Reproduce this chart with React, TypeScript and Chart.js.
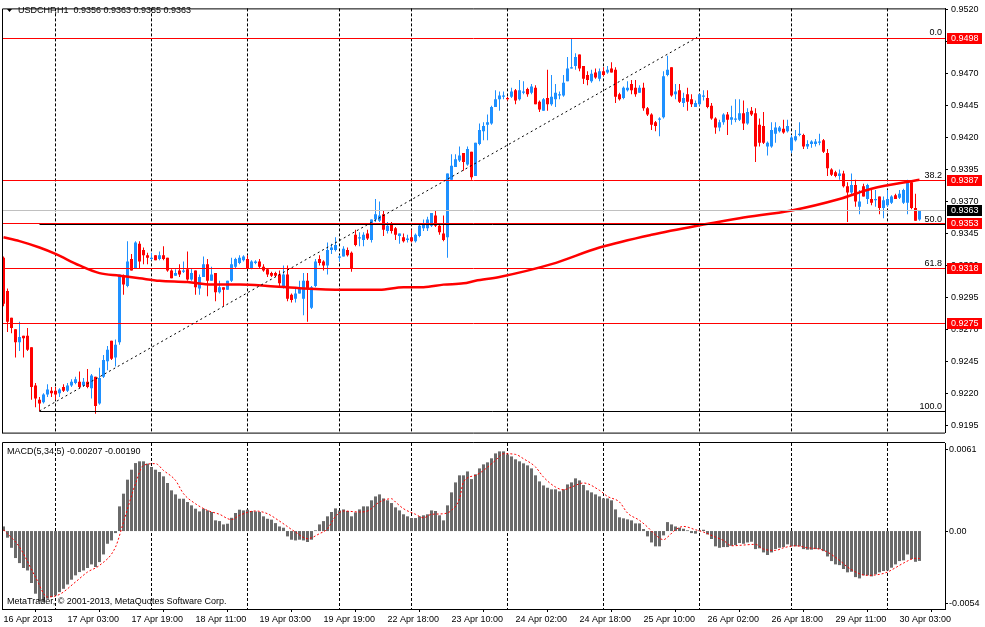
import { useEffect, useRef } from 'react';
import { Chart, registerables } from 'chart.js';

Chart.register(...registerables);

const FONT = '"Liberation Sans", Arial, sans-serif';
const BULL = '#1e90ff';
const BEAR = '#ff0000';
const HIST = '#6a6a6a';

const symbolHeader = 'USDCHF,H1  0.9356 0.9363 0.9355 0.9363';
const macdHeader = 'MACD(5,34,5) -0.00207 -0.00190';
const copyright = 'MetaTrader, \u00a9 2001-2013, MetaQuotes Software Corp.';

// H1 candles
const opens = [
  0.9326, 0.9300, 0.9279, 0.9270, 0.9260, 0.9265, 0.9265, 0.9256, 0.9226, 0.9215,
  0.9213, 0.9219, 0.9222, 0.9222, 0.9220, 0.9225, 0.9222, 0.9226, 0.9228, 0.9229,
  0.9226, 0.9229, 0.9224, 0.9233, 0.9212, 0.9233, 0.9245, 0.9261, 0.9248, 0.9260,
  0.9312, 0.9304, 0.9325, 0.9318, 0.9337, 0.9332, 0.9328, 0.9325, 0.9328, 0.9325,
  0.9328, 0.9326, 0.9316, 0.9312, 0.9316, 0.9315, 0.9317, 0.9309, 0.9316, 0.9302,
  0.9311, 0.9321, 0.9308, 0.9314, 0.9299, 0.9303, 0.9301, 0.9308, 0.9319, 0.9322,
  0.9324, 0.9325, 0.9318, 0.9322, 0.9323, 0.9319, 0.9317, 0.9314, 0.9314, 0.9313,
  0.9303, 0.9313, 0.9297, 0.9294, 0.9298, 0.9294, 0.9308, 0.9287, 0.9304, 0.9325,
  0.9323, 0.9320, 0.9332, 0.9332, 0.9326, 0.9327, 0.9332, 0.9330, 0.9344, 0.9341,
  0.9340, 0.9345, 0.9340, 0.9356, 0.9355, 0.9360, 0.9347, 0.9353, 0.9349, 0.9343,
  0.9342, 0.9340, 0.9342, 0.9339, 0.9343, 0.9349, 0.9349, 0.9351, 0.9359, 0.9351,
  0.9345, 0.9342, 0.9387, 0.9397, 0.9402, 0.9408, 0.9399, 0.9409, 0.9390, 0.9415,
  0.9425, 0.9430, 0.9431, 0.9444, 0.9450, 0.9452, 0.9451, 0.9452, 0.9457, 0.9450,
  0.9455, 0.9458, 0.9455, 0.9459, 0.9448, 0.9441, 0.9451, 0.9446, 0.9450, 0.9453,
  0.9453, 0.9464, 0.9474, 0.9476, 0.9485, 0.9476, 0.9469, 0.9464, 0.9471, 0.9466,
  0.9472, 0.9471, 0.9474, 0.9473, 0.9454, 0.9451, 0.9457, 0.9462, 0.9459, 0.9455,
  0.9459, 0.9443, 0.9438, 0.9432, 0.9434, 0.9436, 0.9469, 0.9475, 0.9454, 0.9457,
  0.9447, 0.9454, 0.9450, 0.9444, 0.9446, 0.9452, 0.9451, 0.9445, 0.9435, 0.9428,
  0.9432, 0.9438, 0.9434, 0.9434, 0.9434, 0.9439, 0.9431, 0.9441, 0.9439, 0.9430,
  0.9429, 0.9413, 0.9413, 0.9423, 0.9425, 0.9427, 0.9425, 0.9410, 0.9418, 0.9422,
  0.9422, 0.9413, 0.9415, 0.9415, 0.9416, 0.9418, 0.9408, 0.9395, 0.9393, 0.9390,
  0.9392, 0.9382, 0.9377, 0.9383, 0.9366, 0.9382, 0.9372, 0.9372, 0.9371, 0.9374,
  0.9365, 0.9367, 0.9369, 0.9375, 0.9373, 0.9369, 0.9369, 0.9385, 0.9365, 0.9356,
];
const highs = [
  0.9327, 0.9302, 0.9279, 0.9270, 0.9276, 0.9265, 0.9271, 0.9256, 0.9228, 0.9217,
  0.9220, 0.9227, 0.9225, 0.9225, 0.9224, 0.9227, 0.9228, 0.9231, 0.9233, 0.9237,
  0.9232, 0.9239, 0.9235, 0.9233, 0.9240, 0.9250, 0.9257, 0.9261, 0.9262, 0.9313,
  0.9313, 0.9339, 0.9329, 0.9339, 0.9339, 0.9334, 0.9330, 0.9330, 0.9328, 0.9331,
  0.9335, 0.9326, 0.9317, 0.9317, 0.9321, 0.9323, 0.9331, 0.9318, 0.9316, 0.9313,
  0.9327, 0.9325, 0.9319, 0.9314, 0.9308, 0.9303, 0.9308, 0.9326, 0.9326, 0.9328,
  0.9328, 0.9328, 0.9324, 0.9324, 0.9325, 0.9321, 0.9318, 0.9315, 0.9315, 0.9316,
  0.9320, 0.9320, 0.9298, 0.9302, 0.9308, 0.9314, 0.9314, 0.9304, 0.9325, 0.9328,
  0.9324, 0.9338, 0.9337, 0.9342, 0.9328, 0.9335, 0.9334, 0.9331, 0.9348, 0.9346,
  0.9346, 0.9348, 0.9356, 0.9372, 0.9370, 0.9363, 0.9354, 0.9354, 0.9350, 0.9345,
  0.9345, 0.9344, 0.9348, 0.9345, 0.9352, 0.9356, 0.9358, 0.9361, 0.9363, 0.9352,
  0.9359, 0.9392, 0.9407, 0.9407, 0.9413, 0.9408, 0.9413, 0.9409, 0.9416, 0.9431,
  0.9432, 0.9438, 0.9445, 0.9457, 0.9456, 0.9456, 0.9452, 0.9459, 0.9458, 0.9465,
  0.9464, 0.9459, 0.9462, 0.9461, 0.9449, 0.9451, 0.9473, 0.9469, 0.9462, 0.9456,
  0.9469, 0.9483, 0.9498, 0.9486, 0.9485, 0.9476, 0.9472, 0.9473, 0.9474, 0.9474,
  0.9475, 0.9476, 0.9479, 0.9475, 0.9455, 0.9460, 0.9464, 0.9465, 0.9465, 0.9461,
  0.9463, 0.9444, 0.9439, 0.9433, 0.9436, 0.9472, 0.9484, 0.9475, 0.9462, 0.9462,
  0.9455, 0.9459, 0.9454, 0.9449, 0.9454, 0.9457, 0.9457, 0.9447, 0.9436, 0.9434,
  0.9439, 0.9440, 0.9445, 0.9450, 0.9450, 0.9449, 0.9443, 0.9444, 0.9443, 0.9435,
  0.9440, 0.9417, 0.9432, 0.9432, 0.9429, 0.9434, 0.9434, 0.9422, 0.9426, 0.9432,
  0.9423, 0.9418, 0.9418, 0.9419, 0.9423, 0.9419, 0.9411, 0.9396, 0.9394, 0.9395,
  0.9394, 0.9385, 0.9392, 0.9387, 0.9379, 0.9384, 0.9384, 0.9380, 0.9379, 0.9374,
  0.9374, 0.9379, 0.9375, 0.9376, 0.9379, 0.9380, 0.9387, 0.9386, 0.9376, 0.9363,
];
const lows = [
  0.9288, 0.9268, 0.9267, 0.9248, 0.9253, 0.9248, 0.9253, 0.9215, 0.9209, 0.9206,
  0.9212, 0.9217, 0.9217, 0.9215, 0.9217, 0.9221, 0.9221, 0.9225, 0.9227, 0.9224,
  0.9225, 0.9224, 0.9216, 0.9204, 0.9211, 0.9232, 0.9238, 0.9246, 0.9241, 0.9258,
  0.9297, 0.9303, 0.9316, 0.9318, 0.9318, 0.9321, 0.9321, 0.9324, 0.9324, 0.9324,
  0.9324, 0.9315, 0.9310, 0.9312, 0.9311, 0.9314, 0.9308, 0.9308, 0.9297, 0.9297,
  0.9311, 0.9296, 0.9308, 0.9292, 0.9298, 0.9288, 0.9301, 0.9307, 0.9318, 0.9321,
  0.9323, 0.9318, 0.9317, 0.9321, 0.9318, 0.9315, 0.9311, 0.9311, 0.9311, 0.9303,
  0.9302, 0.9292, 0.9291, 0.9291, 0.9298, 0.9281, 0.9276, 0.9286, 0.9303, 0.9320,
  0.9316, 0.9313, 0.9329, 0.9331, 0.9323, 0.9327, 0.9327, 0.9315, 0.9335, 0.9335,
  0.9335, 0.9340, 0.9338, 0.9354, 0.9354, 0.9343, 0.9345, 0.9345, 0.9340, 0.9337,
  0.9338, 0.9338, 0.9338, 0.9338, 0.9342, 0.9347, 0.9347, 0.9350, 0.9350, 0.9344,
  0.9339, 0.9326, 0.9387, 0.9397, 0.9401, 0.9394, 0.9398, 0.9387, 0.9390, 0.9414,
  0.9418, 0.9418, 0.9430, 0.9444, 0.9441, 0.9450, 0.9449, 0.9451, 0.9446, 0.9449,
  0.9454, 0.9452, 0.9454, 0.9446, 0.9440, 0.9441, 0.9441, 0.9445, 0.9444, 0.9450,
  0.9452, 0.9464, 0.9474, 0.9473, 0.9472, 0.9462, 0.9461, 0.9463, 0.9466, 0.9464,
  0.9468, 0.9470, 0.9471, 0.9447, 0.9449, 0.9450, 0.9456, 0.9454, 0.9452, 0.9455,
  0.9441, 0.9437, 0.9426, 0.9425, 0.9421, 0.9435, 0.9468, 0.9452, 0.9450, 0.9447,
  0.9444, 0.9441, 0.9444, 0.9444, 0.9445, 0.9449, 0.9443, 0.9434, 0.9423, 0.9425,
  0.9430, 0.9422, 0.9430, 0.9432, 0.9433, 0.9426, 0.9430, 0.9437, 0.9401, 0.9413,
  0.9415, 0.9406, 0.9412, 0.9416, 0.9424, 0.9423, 0.9424, 0.9408, 0.9417, 0.9421,
  0.9411, 0.9411, 0.9412, 0.9413, 0.9414, 0.9408, 0.9390, 0.9390, 0.9389, 0.9387,
  0.9381, 0.9354, 0.9375, 0.9366, 0.9360, 0.9374, 0.9368, 0.9367, 0.9366, 0.9360,
  0.9357, 0.9366, 0.9368, 0.9372, 0.9372, 0.9368, 0.9360, 0.9364, 0.9355, 0.9355,
];
const closes = [
  0.9290, 0.9276, 0.9271, 0.9260, 0.9264, 0.9263, 0.9254, 0.9225, 0.9216, 0.9212,
  0.9219, 0.9223, 0.9220, 0.9219, 0.9223, 0.9222, 0.9226, 0.9229, 0.9231, 0.9225,
  0.9229, 0.9225, 0.9234, 0.9210, 0.9232, 0.9246, 0.9254, 0.9247, 0.9258, 0.9313,
  0.9305, 0.9323, 0.9316, 0.9338, 0.9323, 0.9328, 0.9326, 0.9326, 0.9324, 0.9328,
  0.9325, 0.9316, 0.9310, 0.9314, 0.9313, 0.9316, 0.9309, 0.9314, 0.9303, 0.9311,
  0.9321, 0.9308, 0.9313, 0.9299, 0.9303, 0.9301, 0.9308, 0.9321, 0.9325, 0.9326,
  0.9327, 0.9318, 0.9323, 0.9323, 0.9319, 0.9316, 0.9313, 0.9312, 0.9312, 0.9306,
  0.9313, 0.9294, 0.9293, 0.9298, 0.9302, 0.9308, 0.9302, 0.9303, 0.9323, 0.9322,
  0.9320, 0.9332, 0.9334, 0.9336, 0.9327, 0.9333, 0.9328, 0.9318, 0.9336, 0.9342,
  0.9344, 0.9341, 0.9356, 0.9360, 0.9359, 0.9348, 0.9351, 0.9347, 0.9344, 0.9345,
  0.9339, 0.9341, 0.9339, 0.9344, 0.9351, 0.9353, 0.9356, 0.9361, 0.9351, 0.9346,
  0.9340, 0.9392, 0.9398, 0.9403, 0.9406, 0.9401, 0.9411, 0.9389, 0.9416, 0.9426,
  0.9429, 0.9432, 0.9444, 0.9450, 0.9453, 0.9453, 0.9450, 0.9456, 0.9449, 0.9457,
  0.9456, 0.9454, 0.9460, 0.9446, 0.9442, 0.9450, 0.9446, 0.9452, 0.9455, 0.9454,
  0.9463, 0.9474, 0.9475, 0.9483, 0.9474, 0.9466, 0.9465, 0.9470, 0.9467, 0.9472,
  0.9469, 0.9473, 0.9471, 0.9452, 0.9450, 0.9459, 0.9459, 0.9457, 0.9454, 0.9459,
  0.9443, 0.9438, 0.9430, 0.9429, 0.9435, 0.9468, 0.9473, 0.9453, 0.9456, 0.9448,
  0.9451, 0.9448, 0.9446, 0.9447, 0.9454, 0.9453, 0.9444, 0.9435, 0.9428, 0.9432,
  0.9438, 0.9434, 0.9436, 0.9435, 0.9439, 0.9431, 0.9440, 0.9438, 0.9413, 0.9416,
  0.9416, 0.9416, 0.9426, 0.9428, 0.9428, 0.9424, 0.9429, 0.9420, 0.9421, 0.9423,
  0.9413, 0.9415, 0.9417, 0.9417, 0.9417, 0.9409, 0.9396, 0.9391, 0.9390, 0.9392,
  0.9382, 0.9377, 0.9383, 0.9370, 0.9370, 0.9374, 0.9383, 0.9369, 0.9372, 0.9365,
  0.9371, 0.9372, 0.9374, 0.9372, 0.9376, 0.9379, 0.9385, 0.9365, 0.9355, 0.9363,
];

// red moving average, sampled where it could be read
const maBars = [0, 4, 9, 13, 19, 24, 29, 34, 39, 46, 52, 59, 66, 75, 85, 94, 100, 105, 110, 115, 118, 124, 137, 149, 162, 175, 184, 197, 209, 217, 229];
const maValues = [
  0.9342, 0.9339, 0.9334, 0.9329, 0.9320, 0.9314, 0.9312, 0.9310, 0.9308, 0.9307,
  0.9305, 0.9305, 0.9304, 0.9302, 0.9301, 0.9301, 0.9303, 0.9303, 0.9305, 0.9306,
  0.9308, 0.9311, 0.9321, 0.9334, 0.9344, 0.9352, 0.9357, 0.9363, 0.9372, 0.9380,
  0.9387,
];

// MACD(5,34,5) histogram, one value per bar
const macdValues = [
  0.00032, -0.00046, -0.00116, -0.00187, -0.00222, -0.00256, -0.00273, -0.0036, -0.00434, -0.00485,
  -0.00492, -0.00469, -0.00457, -0.00446, -0.00423, -0.004, -0.0037, -0.00337, -0.00307, -0.00284,
  -0.00273, -0.00256, -0.00231, -0.00249, -0.00215, -0.00162, -0.00088, -0.00065, -0.00014, 0.00171,
  0.00259, 0.00356, 0.00425, 0.00471, 0.00483, 0.00483, 0.00467, 0.00444, 0.00425, 0.00409,
  0.00379, 0.00333, 0.00282, 0.00254, 0.00224, 0.00224, 0.00201, 0.00178, 0.00155, 0.00136,
  0.00155, 0.00143, 0.00132, 0.00074, 0.00069, 0.00046, 0.00051, 0.00092, 0.00125, 0.00148,
  0.00143, 0.00148, 0.00139, 0.00136, 0.00132, 0.00102, 0.00085, 0.00079, 0.00055, 0.00032,
  0.00023, -0.00037, -0.0006, -0.00065, -0.0006, -0.00065, -0.00076, -0.0006, 0.00005, 0.00046,
  0.00069, 0.00102, 0.00132, 0.00157, 0.00143, 0.0015, 0.00139, 0.00102, 0.00129, 0.0015,
  0.00171, 0.00171, 0.00213, 0.0024, 0.00254, 0.00226, 0.00213, 0.00194, 0.00164, 0.00143,
  0.00116, 0.00102, 0.0009, 0.0009, 0.00102, 0.00109, 0.00116, 0.00143, 0.00139, 0.00109,
  0.00074, 0.00178, 0.00268, 0.00337, 0.00386, 0.00386, 0.00413, 0.0036, 0.00393, 0.00434,
  0.00462, 0.00476, 0.00504, 0.00538, 0.00552, 0.00552, 0.00531, 0.00517, 0.00497, 0.00483,
  0.00469, 0.00455, 0.00434, 0.00386, 0.00344, 0.00316, 0.003, 0.00289, 0.00289, 0.00275,
  0.00289, 0.00323, 0.00337, 0.00365, 0.00351, 0.00319, 0.00282, 0.00268, 0.00254, 0.0024,
  0.00226, 0.00226, 0.00213, 0.0015, 0.00095, 0.00088, 0.00081, 0.00074, 0.00053, 0.00053,
  0.00014, -0.00037, -0.00079, -0.00106, -0.00106, -0.0003, 0.00062, 0.00046, 0.00032, 0.00023,
  0.00016, 0.00005, -0.00014, -0.00018, 0.00005, 0.00009, -0.00023, -0.00055, -0.00106, -0.00116,
  -0.00111, -0.00111, -0.00102, -0.00097, -0.00083, -0.00088, -0.00079, -0.00074, -0.00125, -0.0012,
  -0.00148, -0.00166, -0.00148, -0.00125, -0.00116, -0.00111, -0.00092, -0.00106, -0.00106, -0.00106,
  -0.00125, -0.00129, -0.00129, -0.00125, -0.00125, -0.00139, -0.00176, -0.00208, -0.00231, -0.00236,
  -0.00263, -0.00286, -0.00282, -0.00319, -0.00328, -0.00307, -0.00307, -0.00314, -0.003, -0.00286,
  -0.00277, -0.00273, -0.00254, -0.00231, -0.00208, -0.00203, -0.00162, -0.00194, -0.00213, -0.00207,
];

// dotted signal line, sampled
const signalBars = [
  0, 4, 8, 11, 14, 18, 21, 24, 28, 30, 33, 35, 38, 40, 43, 45, 48, 51, 54, 57,
  59, 63, 66, 69, 73, 76, 79, 81, 83, 85, 89, 91, 94, 97, 98, 100, 103, 105, 107, 110,
  112, 114, 115, 118, 120, 123, 125, 128, 130, 133, 135, 138, 140, 142, 145, 149, 151, 154, 156, 159,
  161, 163, 165, 166, 168, 170, 173, 175, 178, 180, 182, 185, 188, 190, 193, 195, 198, 201, 204, 206,
  209, 211, 214, 216, 219, 221, 223, 225, 228, 229,
];
const signalValues = [
  0.00009, -0.00111, -0.00319, -0.00457, -0.00439, -0.00353, -0.00284, -0.00238, -0.00111, 0.00062,
  0.00328, 0.00455, 0.00467, 0.0042, 0.00351, 0.00259, 0.00189, 0.00143, 0.00116, 0.00079,
  0.00109, 0.00139, 0.0012, 0.00069, -0.00007, -0.00053, -0.00018, 0.00016, 0.00102, 0.00139,
  0.00132, 0.00139, 0.00201, 0.00224, 0.00201, 0.00155, 0.00116, 0.00092, 0.00116, 0.0012,
  0.00143, 0.00224, 0.0034, 0.00386, 0.0042, 0.0049, 0.00536, 0.00531, 0.00501, 0.00444,
  0.00374, 0.00305, 0.00286, 0.00305, 0.00333, 0.00282, 0.0024, 0.00201, 0.00125, 0.00074,
  0.00028, -0.00027, -0.0006, -0.00042, 0.00009, 0.00032, 0.00009, -0.00007, -0.00042, -0.00065,
  -0.00102, -0.00097, -0.00092, -0.00125, -0.00134, -0.00116, -0.00102, -0.00116, -0.00125, -0.00146,
  -0.00203, -0.00249, -0.00296, -0.00307, -0.003, -0.00284, -0.00254, -0.00222, -0.00189, -0.0019,
];

const priceTicks = [0.9195, 0.922, 0.9245, 0.927, 0.9295, 0.932, 0.9345, 0.937, 0.9395, 0.942, 0.9445, 0.947, 0.9495, 0.952];
const timeTickBars = [0, 16, 32, 48, 64, 80, 96, 112, 128, 144, 160, 176, 192, 208, 224];
const timeTickLabels = [
  '16 Apr 2013', '17 Apr 03:00', '17 Apr 19:00', '18 Apr 11:00', '19 Apr 03:00',
  '19 Apr 19:00', '22 Apr 18:00', '23 Apr 10:00', '24 Apr 02:00', '24 Apr 18:00',
  '25 Apr 10:00', '26 Apr 02:00', '26 Apr 18:00', '29 Apr 11:00', '30 Apr 03:00',
];
const daySeparators = [13, 37, 61, 84, 102, 126, 150, 174, 197, 221];

// drawn objects
const lineLevels = [0.9498, 0.9387, 0.9353, 0.9318, 0.9275];
const lastPrice = 0.9363;
const fibLevels = [0, 38.2, 50, 61.8, 100];
const fibHigh = 0.94984;
const fibLow = 0.92062;
const fibFromBar = 9;
const fibToBar = 173.4;
const macdAxisLabels = ['0.0061', '0.00', '-0.0054'];

const X_MIN = -0.375;
const X_MAX = 235.375;
const PRICE_MIN = 0.918925;
const PRICE_MAX = 0.952107;
const MACD_MIN = -0.0054;
const MACD_MAX = 0.0061;

const bars = opens.map((_, i) => i);
const candleColors = bars.map((i) => (closes[i] >= opens[i] ? BULL : BEAR));
const fibPrice = (r: number) => fibHigh - ((fibHigh - fibLow) * r) / 100;

function drawSeparators(chart: any) {
  const { ctx, chartArea: a, scales } = chart;
  ctx.save();
  ctx.strokeStyle = '#000';
  ctx.lineWidth = 1;
  ctx.setLineDash([3, 2]);
  ctx.beginPath();
  daySeparators.forEach((b) => {
    const px = Math.floor(scales.x.getPixelForValue(b)) + 0.5;
    ctx.moveTo(px, a.top);
    ctx.lineTo(px, a.bottom);
  });
  ctx.stroke();
  ctx.restore();
}

function hLine(ctx: CanvasRenderingContext2D, x1: number, x2: number, y: number, color: string) {
  const py = Math.round(y) + 0.5;
  ctx.strokeStyle = color;
  ctx.beginPath();
  ctx.moveTo(x1, py);
  ctx.lineTo(x2, py);
  ctx.stroke();
}

const mainOverlay = {
  id: 'mainOverlay',
  beforeDatasetsDraw(chart: any) {
    drawSeparators(chart);
  },
  afterDatasetsDraw(chart: any) {
    const { ctx, chartArea: a, scales } = chart;
    const { x, y } = scales;
    ctx.save();
    ctx.beginPath();
    ctx.rect(a.left, a.top, a.right - a.left, a.bottom - a.top + 1);
    ctx.clip();
    ctx.lineWidth = 1;
    const fx = x.getPixelForValue(fibFromBar);
    const redYs = lineLevels.map((p) => y.getPixelForValue(p));
    fibLevels.forEach((r) => {
      const fy = y.getPixelForValue(fibPrice(r));
      // fib levels that sit on a red line stay hidden behind it
      if (!redYs.some((ry) => Math.abs(ry - fy) < 0.8)) hLine(ctx, fx, a.right, fy, '#000');
    });
    hLine(ctx, a.left, a.right, y.getPixelForValue(lastPrice), '#c0c0c0');
    redYs.forEach((ry) => hLine(ctx, a.left, a.right, ry, '#ff0000'));
    ctx.setLineDash([2, 3]);
    ctx.strokeStyle = '#000';
    ctx.beginPath();
    ctx.moveTo(fx, y.getPixelForValue(fibLow));
    ctx.lineTo(x.getPixelForValue(fibToBar), y.getPixelForValue(fibHigh));
    ctx.stroke();
    ctx.restore();
  },
  afterDraw(chart: any) {
    const { ctx, chartArea: a, scales } = chart;
    const { y } = scales;
    ctx.save();
    ctx.strokeStyle = '#000';
    ctx.lineWidth = 1;
    ctx.beginPath();
    ctx.moveTo(a.left + 0.5, a.top + 0.5);
    ctx.lineTo(a.right, a.top + 0.5);
    ctx.moveTo(a.left + 0.5, a.top + 0.5);
    ctx.lineTo(a.left + 0.5, a.bottom + 0.5);
    ctx.moveTo(a.left, a.bottom + 0.5);
    ctx.lineTo(a.right, a.bottom + 0.5);
    ctx.stroke();

    ctx.font = `9px ${FONT}`;
    ctx.fillStyle = '#000';
    ctx.beginPath();
    ctx.moveTo(7, 9);
    ctx.lineTo(12, 9);
    ctx.lineTo(9.5, 12);
    ctx.closePath();
    ctx.fill();
    ctx.textBaseline = 'middle';
    ctx.textAlign = 'left';
    ctx.fillText(symbolHeader, 18, 11);

    ctx.textAlign = 'right';
    ctx.textBaseline = 'alphabetic';
    fibLevels.forEach((r) => {
      const py = Math.round(y.getPixelForValue(fibPrice(r)));
      ctx.fillText(r.toFixed(1), a.right - 3, py - 2);
    });

    ctx.textAlign = 'left';
    ctx.textBaseline = 'middle';
    const box = (p: number, color: string) => {
      const py = Math.round(y.getPixelForValue(p));
      ctx.fillStyle = color;
      ctx.fillRect(a.right + 2, py - 5, 35, 11);
      ctx.fillStyle = '#fff';
      ctx.fillText(p.toFixed(4), a.right + 6, py + 0.5);
    };
    lineLevels.forEach((p) => box(p, '#ff0000'));
    box(lastPrice, '#000');
    ctx.restore();
  },
};

const macdOverlay = {
  id: 'macdOverlay',
  beforeDatasetsDraw(chart: any) {
    drawSeparators(chart);
  },
  afterDraw(chart: any) {
    const { ctx, chartArea: a, scales } = chart;
    ctx.save();
    ctx.strokeStyle = '#000';
    ctx.lineWidth = 1;
    ctx.beginPath();
    ctx.moveTo(a.left + 0.5, a.top - 0.5);
    ctx.lineTo(a.right, a.top - 0.5);
    ctx.moveTo(a.left + 0.5, a.top - 0.5);
    ctx.lineTo(a.left + 0.5, a.bottom);
    const ys = [a.top + 6, Math.round(scales.y.getPixelForValue(0)), a.bottom - 6];
    ys.forEach((py) => {
      ctx.moveTo(a.right, py + 0.5);
      ctx.lineTo(a.right + 3, py + 0.5);
    });
    ctx.stroke();

    ctx.font = `9px ${FONT}`;
    ctx.fillStyle = '#000';
    ctx.textAlign = 'left';
    ctx.textBaseline = 'middle';
    macdAxisLabels.forEach((t, k) => ctx.fillText(t, a.right + 4, ys[k] + 0.5));
    ctx.fillText(macdHeader, 7, a.top + 9);
    ctx.fillText(copyright, 7, a.bottom - 7);
    ctx.restore();
  },
};

const tickFont = { family: FONT, size: 9 };

export default function App() {
  const priceRef = useRef<HTMLCanvasElement>(null);
  const macdRef = useRef<HTMLCanvasElement>(null);

  useEffect(() => {
    const priceCtx = priceRef.current?.getContext('2d');
    const macdCtx = macdRef.current?.getContext('2d');
    if (!priceCtx || !macdCtx) return;

    const priceChart = new Chart(priceCtx, {
      type: 'bar',
      data: {
        datasets: [
          {
            type: 'line',
            data: maBars.map((b, k) => ({ x: b, y: maValues[k] })),
            borderColor: '#ff0000',
            borderWidth: 2.5,
            pointRadius: 0,
            cubicInterpolationMode: 'monotone',
            order: 0,
          } as any,
          {
            data: bars.map((i) => ({ x: i, y: [opens[i], closes[i]] })),
            backgroundColor: candleColors,
            barThickness: 3,
            minBarLength: 1,
            grouped: false,
            inflateAmount: 0,
            order: 1,
          },
          {
            data: bars.map((i) => ({ x: i, y: [lows[i], highs[i]] })),
            backgroundColor: candleColors,
            barThickness: 1,
            grouped: false,
            inflateAmount: 0,
            order: 2,
          },
        ],
      },
      options: {
        animation: false,
        responsive: false,
        events: [],
        layout: { padding: { left: 2, right: 0, top: 2, bottom: 1 } },
        plugins: { legend: { display: false }, tooltip: { enabled: false } },
        scales: {
          x: { type: 'linear', min: X_MIN, max: X_MAX, offset: false, display: false },
          y: {
            type: 'linear',
            position: 'right',
            min: PRICE_MIN,
            max: PRICE_MAX,
            beginAtZero: false,
            bounds: 'data',
            afterFit: (s: any) => {
              s.width = 40;
            },
            afterBuildTicks: (s: any) => {
              s.ticks = priceTicks.map((v) => ({ value: v }));
            },
            ticks: {
              callback: (v: any) => Number(v).toFixed(4),
              font: tickFont,
              color: '#000',
              padding: 3,
              autoSkip: false,
            },
            grid: { drawOnChartArea: false, drawTicks: true, tickLength: 3, tickColor: '#000' },
            border: { color: '#000', width: 1 },
          },
        },
      } as any,
      plugins: [mainOverlay],
    });

    const macdChart = new Chart(macdCtx, {
      type: 'bar',
      data: {
        datasets: [
          {
            type: 'line',
            data: signalBars.map((b, k) => ({ x: b, y: signalValues[k] })),
            borderColor: '#ff0000',
            borderWidth: 1,
            borderDash: [2, 2],
            pointRadius: 0,
            cubicInterpolationMode: 'monotone',
            order: 0,
          } as any,
          {
            data: bars.map((i) => ({ x: i, y: macdValues[i] })),
            backgroundColor: HIST,
            barThickness: 3,
            grouped: false,
            inflateAmount: 0,
            order: 1,
          },
        ],
      },
      options: {
        animation: false,
        responsive: false,
        events: [],
        layout: { padding: { left: 2, right: 0, top: 2, bottom: 0 } },
        plugins: { legend: { display: false }, tooltip: { enabled: false } },
        scales: {
          x: {
            type: 'linear',
            position: 'bottom',
            min: X_MIN,
            max: X_MAX,
            offset: false,
            bounds: 'data',
            afterFit: (s: any) => {
              s.height = 18;
            },
            afterBuildTicks: (s: any) => {
              s.ticks = timeTickBars.map((v) => ({ value: v }));
            },
            ticks: {
              callback: (v: any) => timeTickLabels[timeTickBars.indexOf(Number(v))] ?? '',
              align: 'start',
              autoSkip: false,
              maxRotation: 0,
              minRotation: 0,
              padding: 2,
              font: tickFont,
              color: '#000',
            },
            grid: { drawOnChartArea: false, drawTicks: true, tickLength: 3, tickColor: '#000' },
            border: { color: '#000', width: 1 },
          },
          y: {
            type: 'linear',
            position: 'right',
            min: MACD_MIN,
            max: MACD_MAX,
            beginAtZero: false,
            bounds: 'data',
            afterFit: (s: any) => {
              s.width = 40;
            },
            ticks: { display: false },
            grid: { drawOnChartArea: false, drawTicks: false },
            border: { color: '#000', width: 1 },
          },
        },
      } as any,
      plugins: [macdOverlay],
    });

    return () => {
      priceChart.destroy();
      macdChart.destroy();
    };
  }, []);

  return (
    <div style={{ position: 'absolute', left: 0, top: 0, width: 985, height: 627, background: '#fff' }}>
      <canvas ref={priceRef} width={985} height={441} style={{ position: 'absolute', left: 0, top: 0 }} />
      <canvas ref={macdRef} width={985} height={186} style={{ position: 'absolute', left: 0, top: 441 }} />
    </div>
  );
}
